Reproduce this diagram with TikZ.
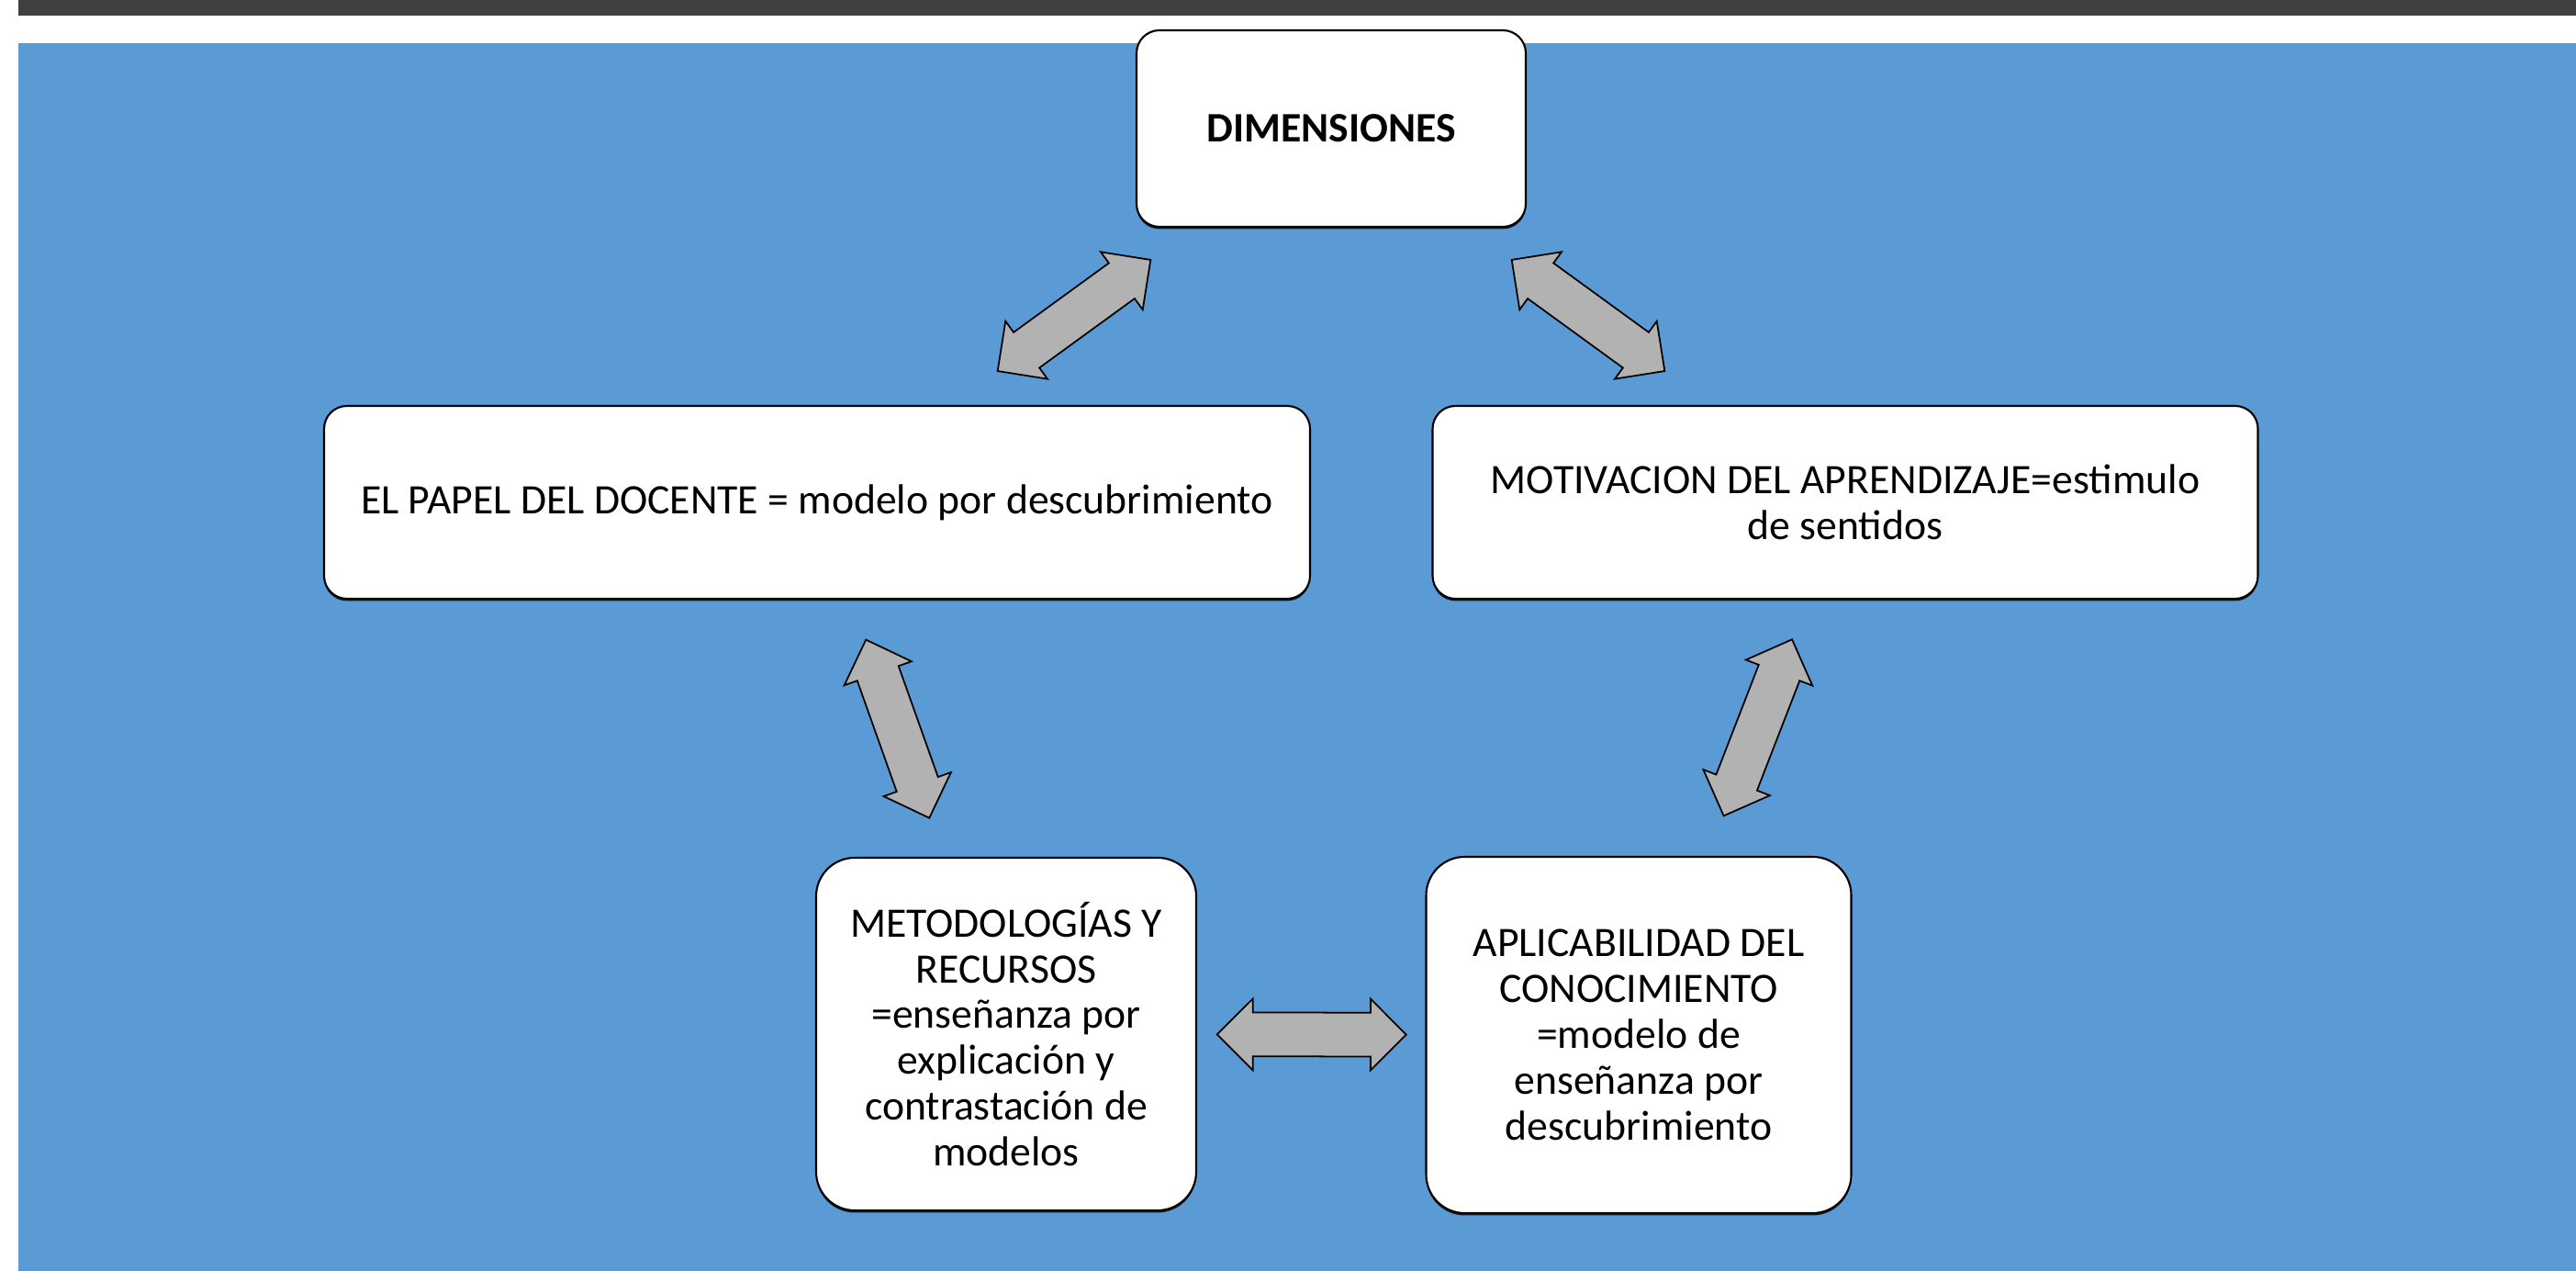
\documentclass[tikz,border=0pt]{standalone}
\usepackage{fontspec}
\setmainfont{Carlito}
\usetikzlibrary{positioning, shapes.arrows, shadows}

\definecolor{bgblue}{RGB}{91,155,213}
\definecolor{topbar}{RGB}{64,64,64}
\definecolor{arrowgray}{RGB}{178,178,178}

\begin{document}
\begin{tikzpicture}[
    box/.style={rectangle, rounded corners=0.25cm, draw=black, line width=0.6pt,
                fill=white, align=center, inner sep=0pt,
                font=\fontsize{13pt}{14.2pt}\selectfont,
                drop shadow={shadow xshift=0pt, shadow yshift=-0.7pt, opacity=0.8, fill=black}},
    dblarrow/.style={double arrow, double arrow head extend=0.15cm, double arrow tip angle=90,
                     minimum height=2.06cm, inner xsep=0pt, inner ysep=0.23cm,
                     draw=black, line width=0.5pt, fill=arrowgray, sloped}
]

    % Background
    \useasboundingbox (0,0) rectangle (28.06,-13.84);
    \fill[white] (0,0) rectangle (28.06,-13.84);
    \fill[topbar] (0.20,0) rectangle (28.06,-0.17);
    \fill[bgblue] (0.20,-0.47) rectangle (28.06,-13.84);

    % Top
    \node[box, minimum width=4.24cm, minimum height=2.14cm,
          font=\fontsize{13pt}{14.2pt}\selectfont\bfseries] (dim) at (14.50,-1.40) {DIMENSIONES};

    % Middle row
    \node[box, minimum width=10.74cm, minimum height=2.10cm] (papel) at (8.90,-5.47)
        {EL PAPEL DEL DOCENTE = modelo por descubrimiento};
    \node[box, minimum width=8.99cm, minimum height=2.10cm] (motiv) at (20.10,-5.47)
        {MOTIVACION DEL APRENDIZAJE=estimulo\\de sentidos};

    % Bottom row
    \node[box, rounded corners=0.42cm, minimum width=4.14cm, minimum height=3.84cm] (metod) at (10.96,-11.26)
        {METODOLOGÍAS Y\\RECURSOS\\=enseñanza por\\explicación y\\contrastación de\\modelos};
    \node[box, rounded corners=0.42cm, minimum width=4.63cm, minimum height=3.88cm] (aplic) at (17.85,-11.27)
        {APLICABILIDAD DEL\\CONOCIMIENTO\\=modelo de\\enseñanza por\\descubrimiento};

    % Arrows
    \path (dim.center) -- (papel.center) node[dblarrow, pos=0.5] (dimpapel) {};
    \path (dim.center) -- (motiv.center) node[dblarrow, pos=0.5] (dimmotiv) {};
    \path (papel.center) -- (metod.center) node[dblarrow, pos=0.426] (papelmetod) {};
    \path (motiv.center) -- (aplic.center) node[dblarrow, pos=0.423] (motivaplic) {};
    \path (metod.center) -- (aplic.center) node[dblarrow, pos=0.483] (metodaplic) {};

\end{tikzpicture}
\end{document}
